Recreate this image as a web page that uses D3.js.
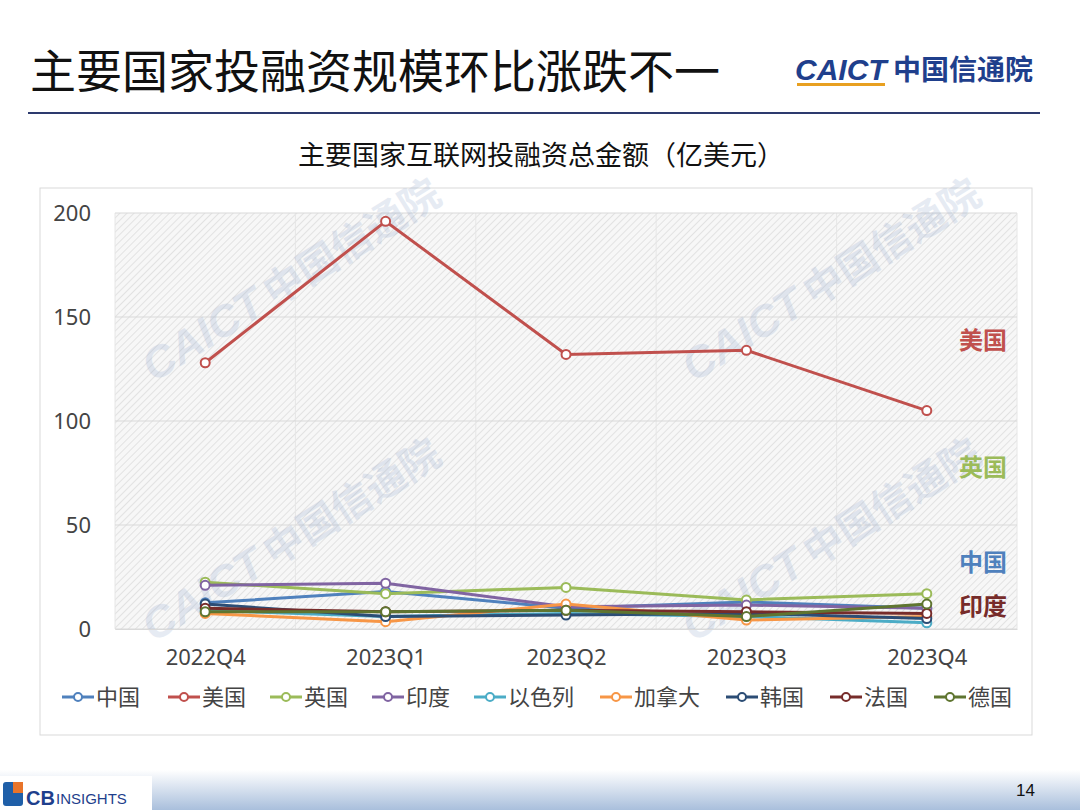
<!DOCTYPE html>
<html><head><meta charset="utf-8">
<script src="https://cdn.jsdelivr.net/npm/d3@7"></script>
<style>body{margin:0;background:#fff;font-family:"Noto Sans CJK SC","Noto Sans",sans-serif}</style>
</head><body>
<script>
const quarters = ["2022Q4","2023Q1","2023Q2","2023Q3","2023Q4"];
const countries = ["中国","美国","英国","印度","以色列","加拿大","韩国","法国","德国"];
const colors = ["#4f81bd","#c0504d","#9bbb59","#8064a2","#4bacc6","#f79646","#2c4d75","#772c2a","#5f7530"];
const china   = [12.6, 18, 10, 13, 10];
const usa     = [128, 196, 132, 134, 105];
const uk      = [22.5, 17, 20, 14, 17];
const india   = [21, 22, 10.7, 11.5, 10];
const israel  = [9, 6, 7.5, 6, 3];
const canada  = [7.5, 3.5, 12, 4.3, 6];
const korea   = [12, 6, 6.7, 7.5, 5];
const france  = [10, 8.3, 9, 8.3, 7.5];
const germany = [8.3, 8.3, 9, 6, 12];
const series = [china, usa, uk, india, israel, canada, korea, france, germany];
const yTicks = [0, 50, 100, 150, 200];
const sideLabels = [{name:"美国", v:139, c:"#c0504d"}, {name:"英国", v:78, c:"#9bbb59"},
                    {name:"中国", v:32, c:"#4f81bd"}, {name:"印度", v:11, c:"#772c2a"}];

const svg = d3.select("body").append("svg").attr("width",1080).attr("height",810);
const defs = svg.append("defs");
const pat = defs.append("pattern").attr("id","hatch").attr("patternUnits","userSpaceOnUse")
  .attr("width",5).attr("height",5).attr("patternTransform","rotate(45)");
pat.append("rect").attr("width",5).attr("height",5).attr("fill","#f7f7f7");
pat.append("line").attr("x1",0).attr("y1",0).attr("x2",0).attr("y2",5).attr("stroke","#dcdcdc").attr("stroke-width",1.5);
const grad = defs.append("linearGradient").attr("id","foot").attr("x1",0).attr("x2",0).attr("y1",0).attr("y2",1);
grad.append("stop").attr("offset","0").attr("stop-color","#ffffff");
grad.append("stop").attr("offset","1").attr("stop-color","#a9bfdc");

// header
svg.append("text").attr("x",30).attr("y",88).attr("font-size",46).attr("fill","#111").text("主要国家投融资规模环比涨跌不一");
svg.append("text").attr("x",795).attr("y",80).attr("font-size",30).attr("font-weight",900)
  .attr("font-family","Arial, Liberation Sans, sans-serif").attr("fill","#1f3f8c").attr("font-style","italic").text("CAICT");
svg.append("rect").attr("x",797).attr("y",83).attr("width",88).attr("height",3).attr("fill","#e8a020");
svg.append("text").attr("x",893).attr("y",80).attr("font-size",28).attr("font-weight",700).attr("fill","#1f3f8c").text("中国信通院");
svg.append("line").attr("x1",28).attr("x2",1040).attr("y1",113).attr("y2",113).attr("stroke","#2d3a6e").attr("stroke-width",2);

// footer
svg.append("rect").attr("x",0).attr("y",770).attr("width",1080).attr("height",40).attr("fill","url(#foot)");
svg.append("rect").attr("x",0).attr("y",776).attr("width",152).attr("height",34).attr("fill","#fff");
svg.append("rect").attr("x",3).attr("y",782).attr("width",20).attr("height",24).attr("rx",3).attr("fill","#1f5fa8");
svg.append("rect").attr("x",13).attr("y",782).attr("width",10).attr("height",11).attr("fill","#e8742a");
svg.append("text").attr("x",26).attr("y",805).attr("font-size",20).attr("font-weight",700).attr("font-family","Liberation Sans")
  .attr("fill","#1f3f8c").text("CB");
svg.append("text").attr("x",56).attr("y",804).attr("font-size",15).attr("font-family","Liberation Sans").attr("fill","#1f3f8c").text("INSIGHTS");
svg.append("text").attr("x",1016).attr("y",796).attr("font-size",17).attr("font-family","Liberation Sans").attr("fill","#111").text("14");

// chart frame
svg.append("rect").attr("x",40).attr("y",188).attr("width",992).attr("height",547).attr("fill","#fff").attr("stroke","#d9d9d9");
svg.append("text").attr("x",541).attr("y",165).attr("text-anchor","middle").attr("font-size",27).attr("fill","#111")
  .text("主要国家互联网投融资总金额（亿美元）");

const x0 = 115, x1 = 1017;
const x = d3.scalePoint().domain(quarters).range([x0, x1]).padding(0.5);
const y = d3.scaleLinear().domain([0,200]).range([629,213]);

svg.append("rect").attr("x",x0).attr("y",213).attr("width",x1-x0).attr("height",416).attr("fill","url(#hatch)");
const step = x.step();
svg.append("g").selectAll("line").data(d3.range(6)).join("line")
  .attr("x1",i=>x0+i*step).attr("x2",i=>x0+i*step).attr("y1",213).attr("y2",629).attr("stroke","#e6e6e6");
svg.append("g").selectAll("line").data(yTicks).join("line")
  .attr("x1",x0).attr("x2",x1).attr("y1",d=>y(d)).attr("y2",d=>y(d)).attr("stroke","#d9d9d9");

// watermarks
[[270,310],[810,310],[270,570],[810,570]].forEach(([cx,cy])=>{
  const g = svg.append("g").attr("transform",`translate(${cx},${cy}) rotate(-32)`).attr("opacity",0.22);
  g.append("text").attr("text-anchor","middle").attr("font-size",44).attr("font-weight",900).attr("font-style","italic")
    .attr("font-family","Liberation Sans").attr("fill","#8fa6cc").attr("x",-70).text("CAICT");
  g.append("text").attr("font-size",40).attr("font-weight",700).attr("fill","#8fa6cc").attr("x",5).text("中国信通院");
});

const yAxis = svg.append("g").attr("transform",`translate(${x0},0)`)
  .call(d3.axisLeft(y).tickValues(yTicks).tickSize(0).tickPadding(24));
yAxis.select(".domain").remove();
yAxis.selectAll("text").attr("font-size",22).attr("fill","#444").attr("font-family","Noto Sans");
const xAxis = svg.append("g").attr("transform","translate(0,629)").call(d3.axisBottom(x).tickSize(0).tickPadding(20));
xAxis.select(".domain").attr("stroke","#d9d9d9");
xAxis.selectAll("text").attr("font-size",22).attr("fill","#444").attr("font-family","Noto Sans");

const line = d3.line().x((d,i)=>x(quarters[i])).y(d=>y(d));
series.forEach((s,k)=>{
  const g = svg.append("g");
  g.append("path").attr("d",line(s)).attr("fill","none").attr("stroke",colors[k]).attr("stroke-width",3);
  g.selectAll("circle").data(s).join("circle").attr("cx",(d,i)=>x(quarters[i])).attr("cy",d=>y(d))
    .attr("r",4.5).attr("fill","#fff").attr("stroke",colors[k]).attr("stroke-width",2);
});

svg.selectAll(".side").data(sideLabels).join("text").attr("x",1007).attr("y",d=>y(d.v)+9)
  .attr("text-anchor","end").attr("font-size",24).attr("font-weight",700).attr("fill",d=>d.c).text(d=>d.name);

// legend
const lx = [62,168,270,372,474,600,726,830,934];
const lg = svg.append("g").selectAll("g").data(countries).join("g").attr("transform",(d,i)=>`translate(${lx[i]},697)`);
lg.append("line").attr("x1",0).attr("x2",32).attr("stroke",(d,i)=>colors[i]).attr("stroke-width",3);
lg.append("circle").attr("cx",16).attr("r",4).attr("fill","#fff").attr("stroke",(d,i)=>colors[i]).attr("stroke-width",2);
lg.append("text").attr("x",34).attr("y",8).attr("font-size",22).attr("fill","#444").text(d=>d);
</script>
</body></html>
